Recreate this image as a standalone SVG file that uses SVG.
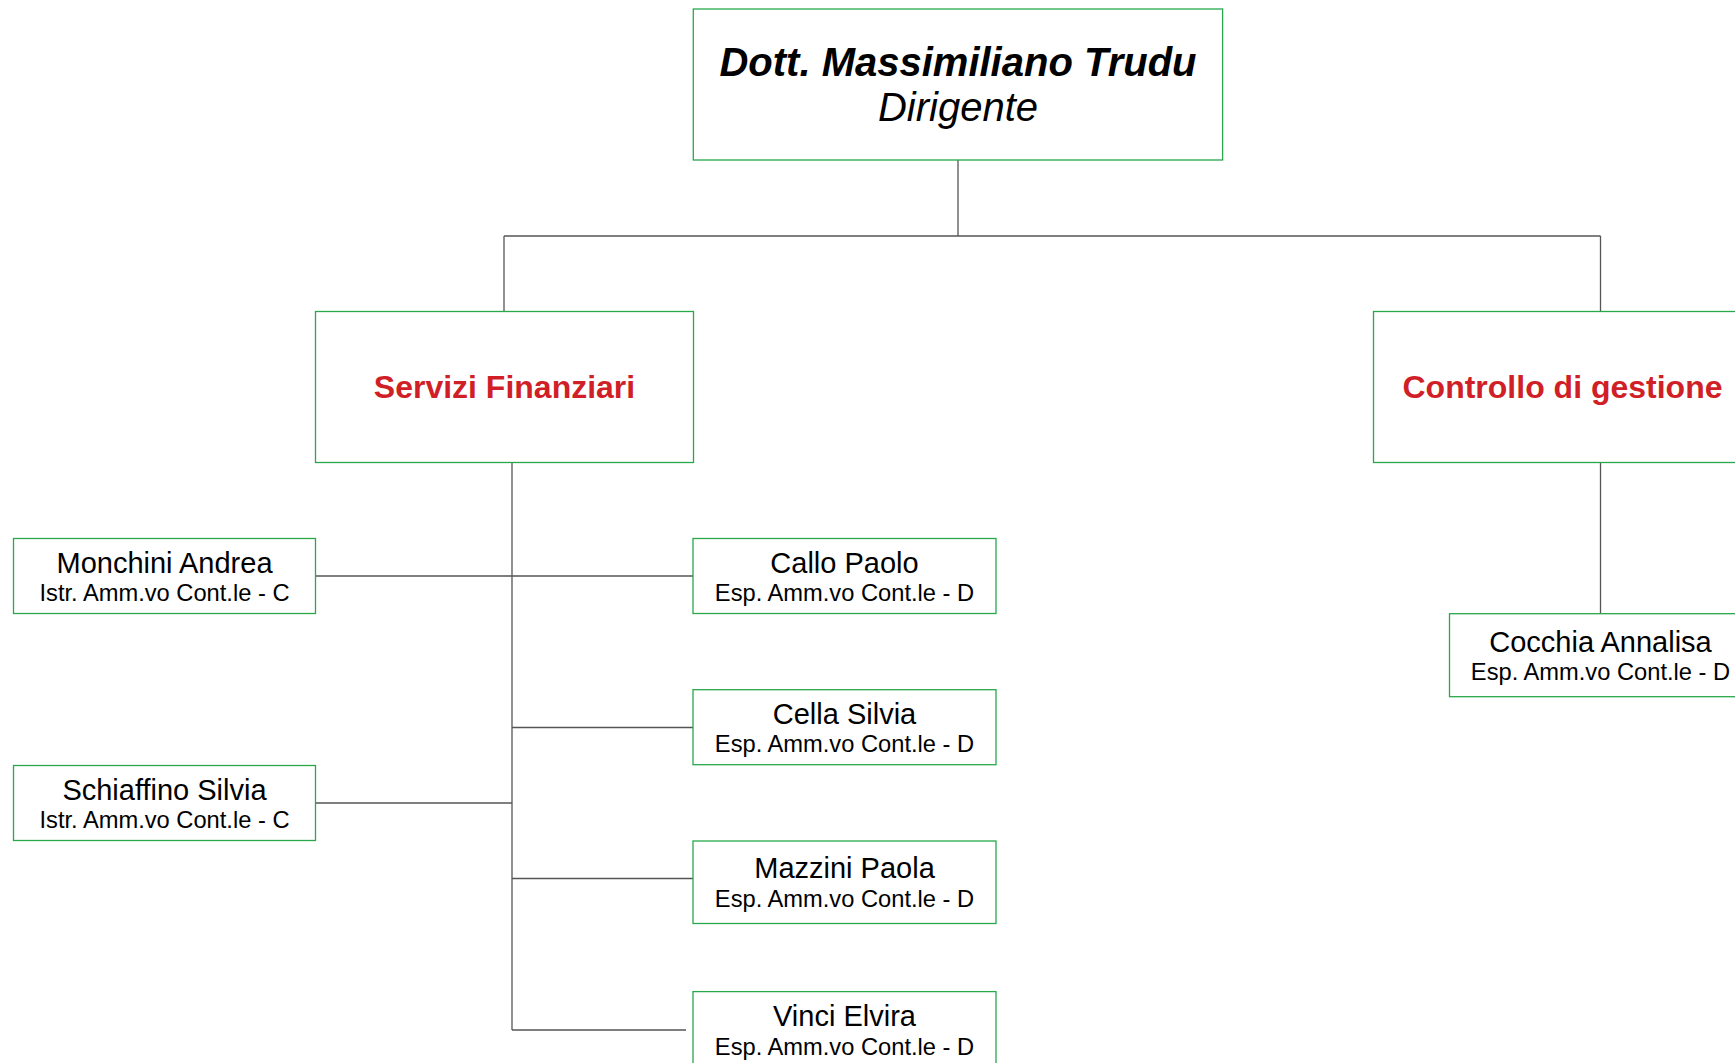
<svg xmlns="http://www.w3.org/2000/svg" width="1735" height="1063" viewBox="0 0 1735 1063">
<style>
.box{fill:#ffffff;stroke:#28a84a;stroke-width:1.3}
.ln{stroke:#555555;stroke-width:1.3;fill:none}
text{font-family:"Liberation Sans",Arial,sans-serif;text-anchor:middle;fill:#000000}
.top{font-size:40px;font-style:italic}
.dept{font-size:32px;font-weight:bold;fill:#d01f26}
.name{font-size:29px}
.role{font-size:23.7px}
</style>
<rect width="1735" height="1063" fill="#ffffff"/>
<g id="connectors">
<line class="ln" x1="958" y1="160" x2="958" y2="236"/>
<line class="ln" x1="504" y1="236" x2="1600.5" y2="236"/>
<line class="ln" x1="504" y1="236" x2="504" y2="311.5"/>
<line class="ln" x1="1600.5" y1="236" x2="1600.5" y2="311.5"/>
<line class="ln" x1="512" y1="462.5" x2="512" y2="1030"/>
<line class="ln" x1="315.5" y1="576" x2="693" y2="576"/>
<line class="ln" x1="512" y1="727.5" x2="693" y2="727.5"/>
<line class="ln" x1="315.5" y1="803" x2="512" y2="803"/>
<line class="ln" x1="512" y1="878.5" x2="693" y2="878.5"/>
<line class="ln" x1="512" y1="1030" x2="686" y2="1030"/>
<line class="ln" x1="1600.5" y1="462.5" x2="1600.5" y2="613.7"/>
</g>
<g id="trudu">
<rect class="box" x="693.3" y="9" width="529.3" height="151"/>
<text class="top" x="958" y="76" font-weight="bold">Dott. Massimiliano Trudu</text>
<text class="top" x="958" y="120.7">Dirigente</text>
</g>
<g id="servizi">
<rect class="box" x="315.5" y="311.5" width="378" height="151"/>
<text class="dept" x="504.5" y="398.3">Servizi Finanziari</text>
</g>
<g id="controllo">
<rect class="box" x="1373.5" y="311.5" width="378" height="151"/>
<text class="dept" x="1562.5" y="398.3">Controllo di gestione</text>
</g>
<g id="monchini">
<rect class="box" x="13.5" y="538.5" width="302" height="75"/>
<text class="name" x="164.5" y="572.5">Monchini Andrea</text>
<text class="role" x="164.5" y="600.5">Istr. Amm.vo Cont.le - C</text>
</g>
<g id="schiaffino">
<rect class="box" x="13.5" y="765.5" width="302" height="75"/>
<text class="name" x="164.5" y="799.5">Schiaffino Silvia</text>
<text class="role" x="164.5" y="827.5">Istr. Amm.vo Cont.le - C</text>
</g>
<g id="callo">
<rect class="box" x="693" y="538.5" width="303" height="75"/>
<text class="name" x="844.5" y="572.5">Callo Paolo</text>
<text class="role" x="844.5" y="601">Esp. Amm.vo Cont.le - D</text>
</g>
<g id="cella">
<rect class="box" x="693" y="689.7" width="303" height="75"/>
<text class="name" x="844.5" y="723.7">Cella Silvia</text>
<text class="role" x="844.5" y="752">Esp. Amm.vo Cont.le - D</text>
</g>
<g id="mazzini">
<rect class="box" x="693" y="841" width="303" height="82.5"/>
<text class="name" x="844.5" y="878.4">Mazzini Paola</text>
<text class="role" x="844.5" y="906.8">Esp. Amm.vo Cont.le - D</text>
</g>
<g id="vinci">
<rect class="box" x="693" y="991.6" width="303" height="83"/>
<text class="name" x="844.5" y="1026.2">Vinci Elvira</text>
<text class="role" x="844.5" y="1055">Esp. Amm.vo Cont.le - D</text>
</g>
<g id="cocchia">
<rect class="box" x="1449.5" y="613.7" width="302" height="83"/>
<text class="name" x="1600.5" y="651.7">Cocchia Annalisa</text>
<text class="role" x="1600.5" y="680">Esp. Amm.vo Cont.le - D</text>
</g>
</svg>
